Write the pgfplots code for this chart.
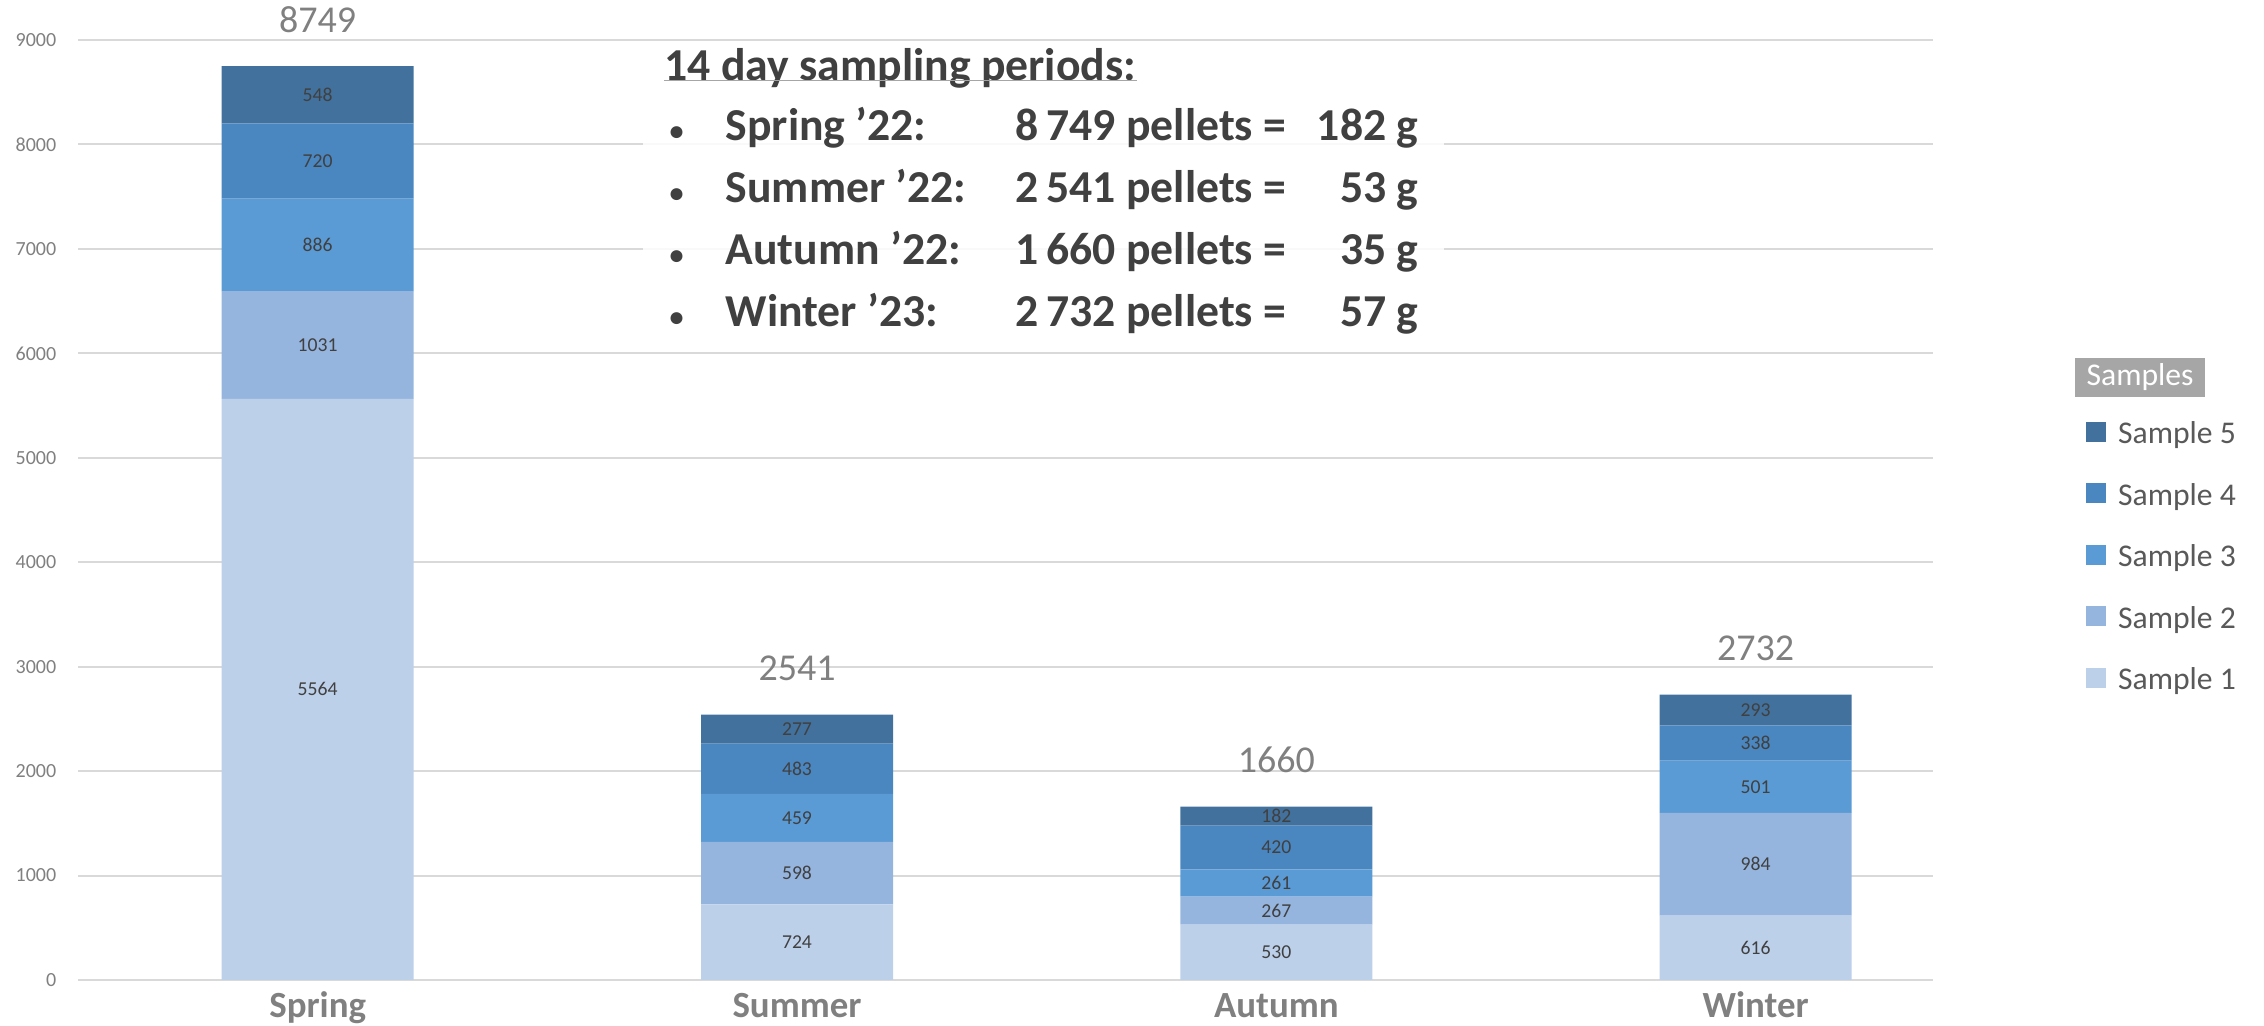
\documentclass[border=0pt]{standalone}
\usepackage{fontspec}
\setmainfont{Carlito}
\usepackage{pgfplots}
\usepackage{pgfplotstable}
\pgfplotsset{compat=1.18}

\definecolor{sOne}{HTML}{BDD0EA}
\definecolor{sTwo}{HTML}{95B5DF}
\definecolor{sThree}{HTML}{5B9BD5}
\definecolor{sFour}{HTML}{4A86BF}
\definecolor{sFive}{HTML}{41719C}
\definecolor{gridgray}{HTML}{D9D9D9}
\definecolor{tickgray}{HTML}{808080}
\definecolor{textdark}{HTML}{404040}
\definecolor{legendgray}{HTML}{595959}
\definecolor{boxgray}{HTML}{A6A6A6}

% pellets per sample and season
\pgfplotstableread{
x s1 s2 s3 s4 s5 total
0 5564 1031 886 720 548 8749
1 724 598 459 483 277 2541
2 530 267 261 420 182 1660
3 616 984 501 338 293 2732
}\datatable

% value labels, set at the middle of each segment
\pgfplotstableread{
x y lab
0 2782 5564
0 6079.5 1031
0 7038 886
0 7841 720
0 8475 548
1 362 724
1 1023 598
1 1551.5 459
1 2022.5 483
1 2402.5 277
2 265 530
2 663.5 267
2 927.5 261
2 1268 420
2 1569 182
3 308 616
3 1108 984
3 1850.5 501
3 2270 338
3 2585.5 293
}\segtable

\pgfplotsset{
  base/.style={
    at={(7.8mm,4.6mm)}, anchor=south west,
    scale only axis, width=185.5mm, height=94mm,
    xmin=-0.5, xmax=3.37, ymin=0, ymax=9000,
    clip=false,
  },
}

\begin{document}
\begin{tikzpicture}
\path[use as bounding box] (0,0) rectangle (226.4mm,102.6mm);

\begin{axis}[
    base,
    ybar stacked, bar width=19.2mm,
    xtick=data, xticklabels={Spring,Summer,Autumn,Winter},
    ytick={0,1000,...,9000},
    scaled y ticks=false,
    /pgf/number format/1000 sep={},
    /pgf/number format/assume math mode=true,
    axis line style={draw=none},
    major tick length=0pt,
    ymajorgrids, grid style={gridgray, line width=0.2mm},
    yticklabel style={font=\fontsize{5.7}{6.8}\selectfont, text=tickgray, anchor=east, inner sep=0pt, xshift=-2.1mm},
    xticklabel style={font=\bfseries\fontsize{10.5}{12}\selectfont, text=tickgray, anchor=base, inner sep=0pt, yshift=-3.8mm},
    legend image code/.code={\fill[#1] (0mm,-0.5mm) rectangle (2mm,1.5mm);},
    reverse legend,
    legend cell align=left,
    legend style={draw=none, fill=none, at={(1.0825,0.447)}, anchor=west,
        font=\fontsize{9}{10.8}\selectfont, text=legendgray, inner sep=0pt, outer sep=0pt,
        row sep=3.15mm,
        nodes={inner sep=0pt, text height=2.2mm, text depth=0.8mm},
        /tikz/every odd column/.append style={column sep=1.2mm}},
]
\addplot[fill=sOne, draw=none] table[x=x, y=s1] {\datatable};
\addlegendentry{Sample 1}
\addplot[fill=sTwo, draw=none] table[x=x, y=s2] {\datatable};
\addlegendentry{Sample 2}
\addplot[fill=sThree, draw=none] table[x=x, y=s3] {\datatable};
\addlegendentry{Sample 3}
\addplot[fill=sFour, draw=none] table[x=x, y=s4] {\datatable};
\addlegendentry{Sample 4}
\addplot[fill=sFive, draw=none] table[x=x, y=s5] {\datatable};
\addlegendentry{Sample 5}
\end{axis}

% segment values and totals
\begin{axis}[base, hide axis]
\addplot[draw=none, mark=none, nodes near coords, point meta=explicit symbolic,
    every node near coord/.append style={anchor=center, inner sep=0pt,
        font=\fontsize{5.6}{6.7}\selectfont, text=textdark}]
    table[x=x, y=y, meta=lab] {\segtable};
\addplot[draw=none, mark=none, nodes near coords, point meta=explicit symbolic,
    every node near coord/.append style={anchor=base, yshift=3.4mm, inner sep=0pt,
        font=\fontsize{10.8}{13}\selectfont, text=tickgray}]
    table[x=x, y=total, meta=total] {\datatable};
\end{axis}

\begin{scope}[x=0.1mm, y=0.1mm]
% legend title
\node[fill=boxgray, minimum width=13mm, minimum height=3.9mm, inner sep=0pt,
      text=white, font=\fontsize{9}{10.8}\selectfont] at (2140,648.5) {Samples};

% text block
\fill[white, opacity=0.85] (643,679) rectangle (1444,976);
\begin{scope}[every node/.style={inner sep=0pt, text=textdark, font=\bfseries\fontsize{13}{15.6}\selectfont}]
\node[anchor=base west] (ttl) at (664,945) {14 day sampling periods:};
\draw[gray!70, line width=0.1mm] (ttl.base west) -- (ttl.base east);

\node[anchor=base west] at (669,885) {\fontsize{8}{9}\selectfont\textbullet};
\node[anchor=base west] at (725,885) {Spring ’22:};
\node[anchor=base west] at (1015,885) {8\,749 pellets =};
\node[anchor=base east] at (1419,885) {182 g};

\node[anchor=base west] at (669,823) {\fontsize{8}{9}\selectfont\textbullet};
\node[anchor=base west] at (725,823) {Summer ’22:};
\node[anchor=base west] at (1015,823) {2\,541 pellets =};
\node[anchor=base east] at (1419,823) {53 g};

\node[anchor=base west] at (669,761) {\fontsize{8}{9}\selectfont\textbullet};
\node[anchor=base west] at (725,761) {Autumn ’22:};
\node[anchor=base west] at (1015,761) {1\,660 pellets =};
\node[anchor=base east] at (1419,761) {35 g};

\node[anchor=base west] at (669,699) {\fontsize{8}{9}\selectfont\textbullet};
\node[anchor=base west] at (725,699) {Winter ’23:};
\node[anchor=base west] at (1015,699) {2\,732 pellets =};
\node[anchor=base east] at (1419,699) {57 g};
\end{scope}
\end{scope}
\end{tikzpicture}
\end{document}
